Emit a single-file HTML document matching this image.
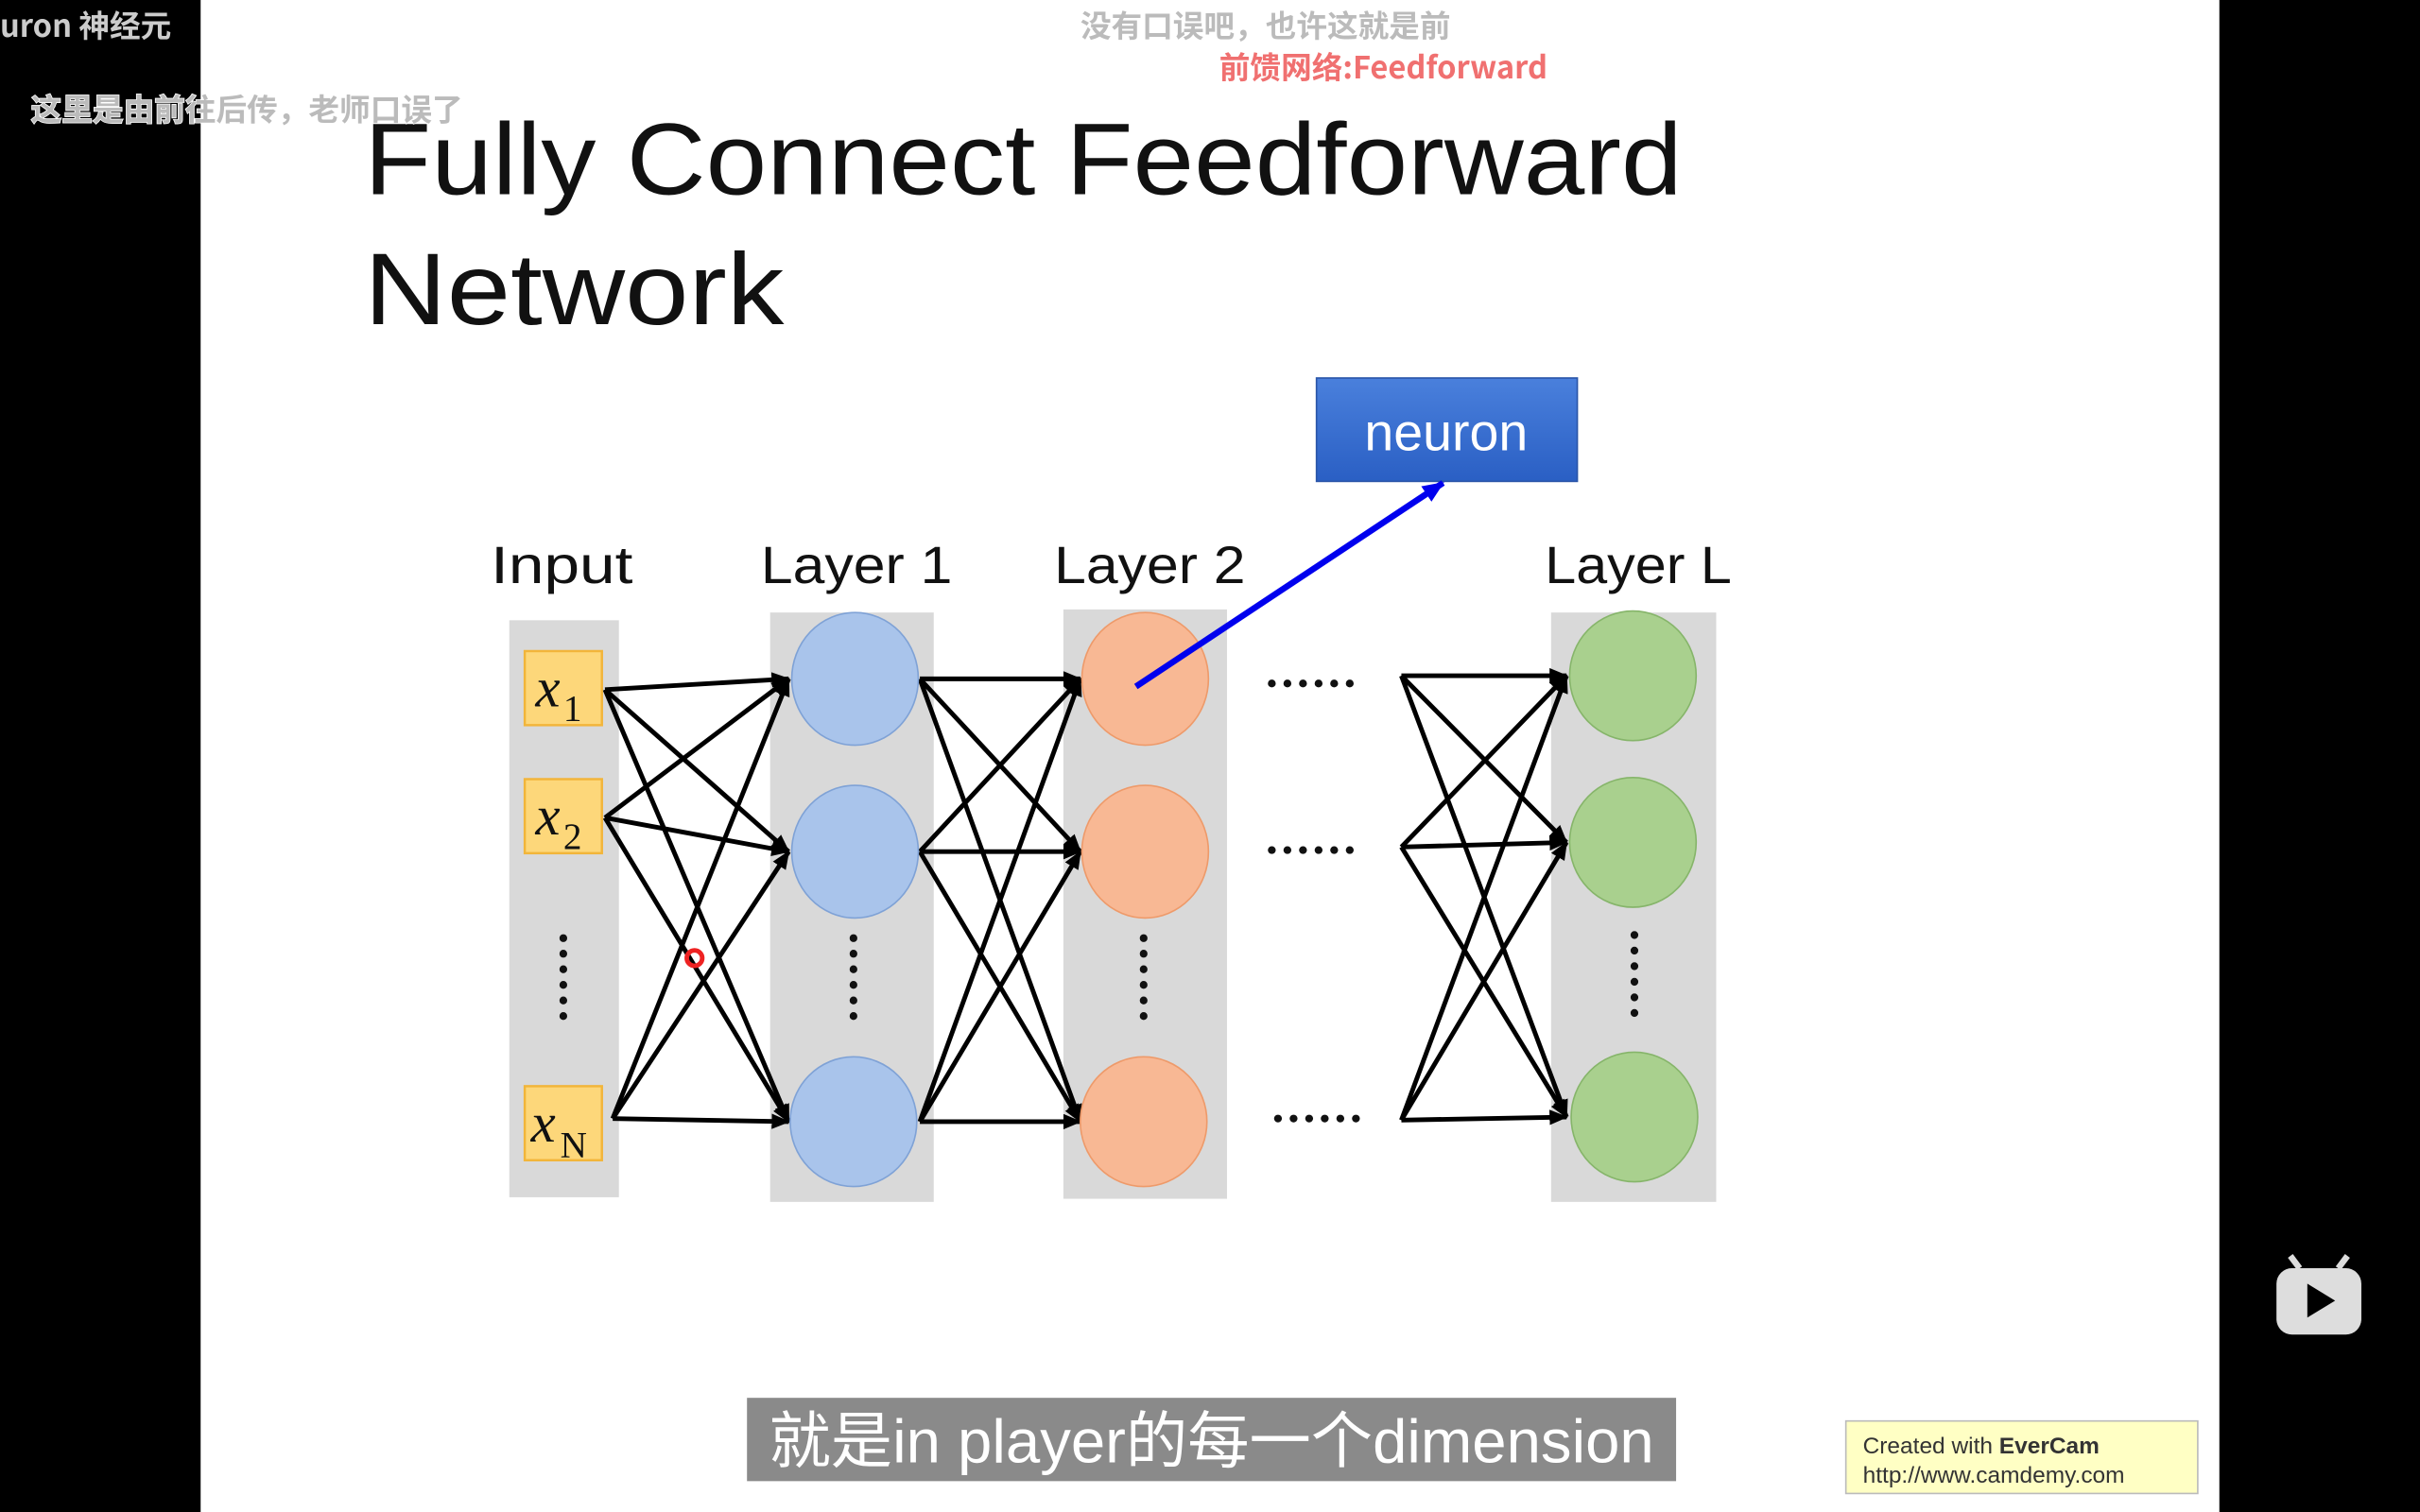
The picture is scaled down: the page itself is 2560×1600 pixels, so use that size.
<!DOCTYPE html>
<html><head><meta charset="utf-8"><style>html,body{margin:0;padding:0;background:#000;}svg{display:block}</style></head>
<body>
<svg width="2560" height="1600" viewBox="0 0 1568 980" xmlns="http://www.w3.org/2000/svg" font-family="Liberation Sans, Noto Sans CJK SC, sans-serif">
<defs>
<marker id="a" markerWidth="12" markerHeight="10" refX="11" refY="5" orient="auto" markerUnits="userSpaceOnUse"><path d="M0,0 L12,5 L0,10 z" fill="#000"/></marker>
<marker id="b" markerWidth="14" markerHeight="12" refX="13" refY="6" orient="auto" markerUnits="userSpaceOnUse"><path d="M0,0 L14,6 L0,12 z" fill="#0000ee"/></marker>
<linearGradient id="g" x1="0" y1="0" x2="0" y2="1"><stop offset="0" stop-color="#4a80dc"/><stop offset="1" stop-color="#2a5fc4"/></linearGradient>
</defs>
<rect x="0" y="0" width="1568" height="980" fill="#000"/>
<rect x="130" y="0" width="1308" height="980" fill="#fff"/>
<text x="236" y="126" font-size="66" fill="#111" textLength="854" lengthAdjust="spacingAndGlyphs">Fully Connect Feedforward</text>
<text x="236" y="210" font-size="66" fill="#111" textLength="272" lengthAdjust="spacingAndGlyphs">Network</text>
<rect x="853" y="245" width="169" height="67" fill="url(#g)" stroke="#2a55a8"/>
<text x="937" y="292" font-size="34" fill="#fff" text-anchor="middle">neuron</text>
<g font-size="34" fill="#111">
<text x="318" y="378" textLength="92" lengthAdjust="spacingAndGlyphs">Input</text>
<text x="493" y="378" textLength="124" lengthAdjust="spacingAndGlyphs">Layer 1</text>
<text x="683" y="378" textLength="124" lengthAdjust="spacingAndGlyphs">Layer 2</text>
<text x="1001" y="378" textLength="121" lengthAdjust="spacingAndGlyphs">Layer L</text>
</g>
<g fill="#d9d9d9">
<rect x="330" y="402" width="71" height="374"/><rect x="499" y="397" width="106" height="382"/>
<rect x="689" y="395" width="106" height="382"/><rect x="1005" y="397" width="107" height="382"/>
</g>
<g fill="#fdd77a" stroke="#f2b53a" stroke-width="1.5">
<rect x="340" y="422" width="50" height="48"/><rect x="340" y="505" width="50" height="48"/><rect x="340" y="704" width="50" height="48"/>
</g>
<g font-family="Liberation Serif, serif" font-style="italic" font-size="36" fill="#111">
<text x="347" y="458">x</text><text x="347" y="541">x</text><text x="344" y="740">x</text>
</g>
<g font-family="Liberation Serif, serif" font-size="24" fill="#111">
<text x="365" y="467">1</text><text x="365" y="550">2</text><text x="363" y="750">N</text>
</g>
<g stroke="#000" stroke-width="3" marker-end="url(#a)">
<line x1="392" y1="447" x2="511" y2="440"/><line x1="392" y1="447" x2="511" y2="552"/><line x1="392" y1="447" x2="511" y2="727"/>
<line x1="392" y1="530" x2="511" y2="440"/><line x1="392" y1="530" x2="511" y2="552"/><line x1="392" y1="530" x2="511" y2="727"/>
<line x1="397" y1="725" x2="511" y2="440"/><line x1="397" y1="725" x2="511" y2="552"/><line x1="397" y1="725" x2="511" y2="727"/>
<line x1="596" y1="440" x2="700" y2="440"/><line x1="596" y1="440" x2="700" y2="552"/><line x1="596" y1="440" x2="700" y2="727"/>
<line x1="596" y1="552" x2="700" y2="440"/><line x1="596" y1="552" x2="700" y2="552"/><line x1="596" y1="552" x2="700" y2="727"/>
<line x1="596" y1="727" x2="700" y2="440"/><line x1="596" y1="727" x2="700" y2="552"/><line x1="596" y1="727" x2="700" y2="727"/>
<line x1="908" y1="438" x2="1015" y2="438"/><line x1="908" y1="438" x2="1015" y2="546"/><line x1="908" y1="438" x2="1015" y2="724"/>
<line x1="908" y1="549" x2="1015" y2="438"/><line x1="908" y1="549" x2="1015" y2="546"/><line x1="908" y1="549" x2="1015" y2="724"/>
<line x1="908" y1="726" x2="1015" y2="438"/><line x1="908" y1="726" x2="1015" y2="546"/><line x1="908" y1="726" x2="1015" y2="724"/>
</g>
<g fill="#a9c4eb" stroke="#7fa2d6"><ellipse cx="554" cy="440" rx="41" ry="43"/><ellipse cx="554" cy="552" rx="41" ry="43"/><ellipse cx="553" cy="727" rx="41" ry="42"/></g>
<g fill="#f8b894" stroke="#ee9a6a"><ellipse cx="742" cy="440" rx="41" ry="43"/><ellipse cx="742" cy="552" rx="41" ry="43"/><ellipse cx="741" cy="727" rx="41" ry="42"/></g>
<g fill="#a9d08e" stroke="#86b56a"><ellipse cx="1058" cy="438" rx="41" ry="42"/><ellipse cx="1058" cy="546" rx="41" ry="42"/><ellipse cx="1059" cy="724" rx="41" ry="42"/></g>
<g stroke="#111" stroke-width="5" stroke-linecap="round" stroke-dasharray="0.1 10">
<line x1="365" y1="608" x2="365" y2="668"/><line x1="553" y1="608" x2="553" y2="668"/><line x1="741" y1="608" x2="741" y2="668"/><line x1="1059" y1="606" x2="1059" y2="666"/>
<line x1="824" y1="443" x2="884" y2="443"/><line x1="824" y1="551" x2="884" y2="551"/><line x1="828" y1="725" x2="888" y2="725"/>
</g>
<line x1="736" y1="445" x2="935" y2="313" stroke="#0000ee" stroke-width="4" marker-end="url(#b)"/>
<circle cx="450" cy="621" r="5" fill="none" stroke="#e22" stroke-width="3"/>
<g font-family="WenQuanYi Zen Hei, Noto Sans CJK SC, sans-serif" font-weight="bold" stroke-width="3" paint-order="stroke">
<text x="0" y="24" font-size="20" fill="#ccc">uron 神经元</text>
<text x="20" y="78" font-size="20" fill="#bbb" stroke="#fff" stroke-width="1">这里是由前往后传，老师口误了</text>
<text x="700" y="24" font-size="20" fill="#bbb" stroke="#fff" stroke-width="1">没有口误吧，也许这就是前</text>
<text x="790" y="51" font-size="20" fill="#f07070" stroke="#fff" stroke-width="1">前馈网络:Feedforward</text>
</g>
<rect x="484" y="906" width="602" height="54" fill="#8a8a8a"/>
<text x="785" y="948" font-size="40" fill="#fff" text-anchor="middle" font-family="Liberation Sans, Noto Sans CJK SC, sans-serif">就是in player的每一个dimension</text>
<rect x="1196" y="921" width="228" height="47" fill="#ffffc4" stroke="#bbb"/>
<text x="1207" y="942" font-size="15" fill="#333">Created with <tspan font-weight="bold">EverCam</tspan></text>
<text x="1207" y="961" font-size="15" fill="#333">http://www.camdemy.com</text>
<rect x="1475" y="822" width="55" height="43" rx="10" fill="#ddd"/>
<line x1="1490" y1="822" x2="1484" y2="814" stroke="#ddd" stroke-width="4"/><line x1="1515" y1="822" x2="1521" y2="814" stroke="#ddd" stroke-width="4"/>
<path d="M1495,832 L1513,843 L1495,854 z" fill="#000"/>
</svg>
</body></html>
